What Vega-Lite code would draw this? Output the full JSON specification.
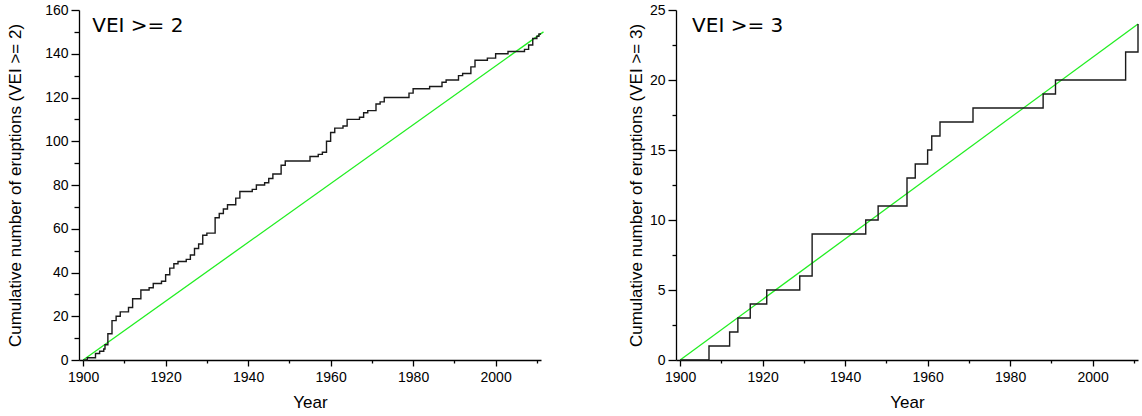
{
  "$schema": "https://vega.github.io/schema/vega-lite/v6.json",
  "background": "white",
  "padding": {"left": 6, "top": 3, "right": 0, "bottom": 0},
  "bounds": "flush",
  "spacing": 135,
  "config": {
    "view": {"stroke": null},
    "axis": {
      "grid": false,
      "domainColor": "black",
      "domainWidth": 1.3,
      "tickColor": "black",
      "tickWidth": 1.3,
      "labelFont": "Liberation Sans",
      "labelFontSize": 14,
      "labelColor": "black",
      "titleFont": "Liberation Sans",
      "titleFontSize": 17,
      "titleFontWeight": "normal",
      "titleColor": "black",
      "labelOverlap": false,
      "labelFlush": false
    }
  },
  "datasets": {
    "vei2": [
      {"year": 1900, "count": 0}, {"year": 1901, "count": 1}, {"year": 1903, "count": 3}, {"year": 1904, "count": 4},
      {"year": 1905, "count": 5}, {"year": 1905.3, "count": 7}, {"year": 1906, "count": 12}, {"year": 1907, "count": 18},
      {"year": 1908, "count": 20}, {"year": 1909, "count": 22}, {"year": 1911, "count": 24}, {"year": 1912, "count": 28},
      {"year": 1914, "count": 32}, {"year": 1916, "count": 33}, {"year": 1917, "count": 35}, {"year": 1919, "count": 36},
      {"year": 1920, "count": 39}, {"year": 1921, "count": 42}, {"year": 1922, "count": 44}, {"year": 1923, "count": 45},
      {"year": 1925, "count": 46}, {"year": 1926, "count": 48}, {"year": 1927, "count": 51}, {"year": 1928, "count": 53},
      {"year": 1929, "count": 57}, {"year": 1930, "count": 58}, {"year": 1932, "count": 65}, {"year": 1933, "count": 67},
      {"year": 1934, "count": 69}, {"year": 1935, "count": 71}, {"year": 1937, "count": 74}, {"year": 1938, "count": 77},
      {"year": 1941, "count": 78}, {"year": 1942, "count": 80}, {"year": 1944, "count": 81}, {"year": 1945, "count": 83},
      {"year": 1946, "count": 85}, {"year": 1948, "count": 89}, {"year": 1949, "count": 91}, {"year": 1955, "count": 93},
      {"year": 1957, "count": 94}, {"year": 1958, "count": 95}, {"year": 1959, "count": 100}, {"year": 1960, "count": 104},
      {"year": 1961, "count": 106}, {"year": 1963, "count": 107}, {"year": 1964, "count": 110}, {"year": 1967, "count": 111},
      {"year": 1968, "count": 113}, {"year": 1969, "count": 114}, {"year": 1971, "count": 117}, {"year": 1972, "count": 118},
      {"year": 1973, "count": 120}, {"year": 1979, "count": 122}, {"year": 1980, "count": 124}, {"year": 1984, "count": 125},
      {"year": 1987, "count": 127}, {"year": 1988, "count": 128}, {"year": 1991, "count": 130}, {"year": 1992, "count": 131},
      {"year": 1994, "count": 134}, {"year": 1995, "count": 137}, {"year": 1998, "count": 138}, {"year": 2000, "count": 140},
      {"year": 2003, "count": 141}, {"year": 2007, "count": 142}, {"year": 2008, "count": 144}, {"year": 2009, "count": 147},
      {"year": 2010, "count": 148}, {"year": 2010.5, "count": 149}, {"year": 2011, "count": 149}
    ],
    "fit2": [{"year": 1900, "count": 0}, {"year": 2011.6, "count": 150}],
    "vei3": [
      {"year": 1900, "count": 0}, {"year": 1907, "count": 1}, {"year": 1912, "count": 2}, {"year": 1914, "count": 3},
      {"year": 1917, "count": 4}, {"year": 1921, "count": 5}, {"year": 1929, "count": 6}, {"year": 1932, "count": 9},
      {"year": 1945, "count": 10}, {"year": 1948, "count": 11}, {"year": 1955, "count": 13}, {"year": 1957, "count": 14},
      {"year": 1960, "count": 15}, {"year": 1961, "count": 16}, {"year": 1963, "count": 17}, {"year": 1971, "count": 18},
      {"year": 1988, "count": 19}, {"year": 1991, "count": 20}, {"year": 2008, "count": 22}, {"year": 2011, "count": 24}
    ],
    "fit3": [{"year": 1900, "count": 0}, {"year": 2011, "count": 24}],
    "lab2": [{"label": "VEI >= 2", "year": 1902.2, "count": 150}],
    "lab3": [{"label": "VEI >= 3", "year": 1902.9, "count": 23.45}]
  },
  "hconcat": [
    {
      "width": 462,
      "height": 350,
      "encoding": {
        "x": {
          "field": "year", "type": "quantitative",
          "scale": {"domain": [1899, 2011], "nice": false, "zero": false},
          "axis": {
            "title": "Year",
            "values": [1900, 1910, 1920, 1930, 1940, 1950, 1960, 1970, 1980, 1990, 2000, 2010],
            "format": "d",
            "labelExpr": "datum.value % 20 === 0 ? datum.label : ''",
            "tickSize": {"condition": {"test": "datum.value % 20 === 0", "value": 6}, "value": 3},
            "labelPadding": 4,
            "titlePadding": 10
          }
        },
        "y": {
          "field": "count", "type": "quantitative",
          "scale": {"domain": [0, 160], "nice": false},
          "axis": {
            "title": "Cumulative number of eruptions (VEI >= 2)",
            "values": [0, 10, 20, 30, 40, 50, 60, 70, 80, 90, 100, 110, 120, 130, 140, 150, 160],
            "labelExpr": "datum.value % 20 === 0 ? datum.label : ''",
            "tickSize": {"condition": {"test": "datum.value % 20 === 0", "value": 8}, "value": 5},
            "labelPadding": 3,
            "titlePadding": 20
          }
        }
      },
      "layer": [
        {
          "data": {"name": "fit2"},
          "mark": {"type": "line", "color": "#22ee22", "strokeWidth": 1.3}
        },
        {
          "data": {"name": "vei2"},
          "mark": {"type": "line", "interpolate": "step-after", "color": "#1a1a1a", "strokeWidth": 1.4}
        },
        {
          "data": {"name": "lab2"},
          "mark": {"type": "text", "font": "DejaVu Sans", "fontSize": 20, "align": "left", "baseline": "alphabetic", "color": "black"},
          "encoding": {
            "text": {"field": "label", "type": "nominal"}
          }
        }
      ]
    },
    {
      "width": 462,
      "height": 350,
      "encoding": {
        "x": {
          "field": "year", "type": "quantitative",
          "scale": {"domain": [1899, 2011], "nice": false, "zero": false},
          "axis": {
            "title": "Year",
            "values": [1900, 1910, 1920, 1930, 1940, 1950, 1960, 1970, 1980, 1990, 2000, 2010],
            "format": "d",
            "labelExpr": "datum.value % 20 === 0 ? datum.label : ''",
            "tickSize": {"condition": {"test": "datum.value % 20 === 0", "value": 6}, "value": 3},
            "labelPadding": 4,
            "titlePadding": 10
          }
        },
        "y": {
          "field": "count", "type": "quantitative",
          "scale": {"domain": [0, 25], "nice": false},
          "axis": {
            "title": "Cumulative number of eruptions (VEI >= 3)",
            "values": [0, 2.5, 5, 7.5, 10, 12.5, 15, 17.5, 20, 22.5, 25],
            "labelExpr": "datum.value % 5 === 0 ? datum.label : ''",
            "tickSize": {"condition": {"test": "datum.value % 5 === 0", "value": 8}, "value": 4},
            "labelPadding": 3,
            "titlePadding": 4
          }
        }
      },
      "layer": [
        {
          "data": {"name": "fit3"},
          "mark": {"type": "line", "color": "#22ee22", "strokeWidth": 1.3}
        },
        {
          "data": {"name": "vei3"},
          "mark": {"type": "line", "interpolate": "step-after", "color": "#1a1a1a", "strokeWidth": 1.4}
        },
        {
          "data": {"name": "lab3"},
          "mark": {"type": "text", "font": "DejaVu Sans", "fontSize": 20, "align": "left", "baseline": "alphabetic", "color": "black"},
          "encoding": {
            "text": {"field": "label", "type": "nominal"}
          }
        }
      ]
    }
  ]
}
